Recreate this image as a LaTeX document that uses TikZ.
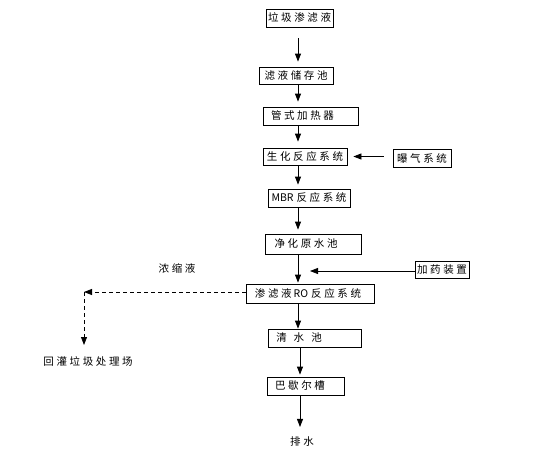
\documentclass[tikz,border=0pt]{standalone}
\usepackage{fontspec}
\newfontfamily\cjk[LetterSpace=25]{Noto Sans CJK SC}
\newfontfamily\lat{Noto Sans CJK SC}
\usetikzlibrary{arrows.meta}
\begin{document}
\begin{tikzpicture}[x=1pt,y=-1pt,
  txt/.style={inner sep=0pt, font=\cjk\fontsize{10.5}{12}\selectfont},
  box/.style={txt, draw, line width=0.8pt, minimum height=18pt},
  arr/.style={line width=0.8pt, -{Triangle[length=8pt,width=6pt]}},
  darr/.style={arr, dash pattern=on 4pt off 3pt}]
\useasboundingbox (0,0) rectangle (538,458);
\coordinate (col) at (298,0);
\coordinate (col2) at (300,0);
\node[box, minimum width=67pt] (a) at (299.5,18) {垃圾渗滤液};
\node[box, minimum width=74pt, minimum height=17pt] (b) at (296,75.5) {滤液储存池};
\node[box, minimum width=95pt] (c) at (310.5,116) {\hspace*{-16pt}管式加热器};
\node[box, minimum width=84pt, minimum height=17pt] (d) at (305,156.5) {生化反应系统};
\node[box, minimum width=58pt] (e) at (422,158) {曝气系统};
\node[box, minimum width=82pt] (f) at (309,198) {{\lat MBR}\hspace{3pt}反应系统};
\node[box, minimum width=96pt, minimum height=20pt] (g) at (313,244) {\hspace*{-14pt}净化原水池};
\node[box, minimum width=54pt, minimum height=17pt] (h) at (442,269.5) {加药装置};
\node[box, minimum width=128pt, minimum height=19pt] (i) at (310,293.5) {\hspace*{-4pt}渗滤液\hspace{2pt}{\lat RO}\hspace{3pt}反应系统};
\node[box, minimum width=93pt] (j) at (314.5,338) {\hspace*{-31pt}清\hspace{7pt}水\hspace{7pt}池};
\node[box, minimum width=77pt] (k) at (305.5,386) {\hspace*{-11pt}巴歇尔槽};
\node[txt] (l1) at (177,268) {浓缩液};
\node[txt] (l2) at (88,361) {回灌垃圾处理场};
\node[txt] (l3) at (302,442) {排水};
\coordinate (hp) at (310,271);
\coordinate (corner) at (84,292);
\coordinate (dend) at (84,345);
\draw[arr, shorten <=11pt, shorten >=5pt] (a.south -| col) -- (b.north -| col);
\draw[arr, shorten >=5pt] (b.south -| col) -- (c.north -| col);
\draw[arr, shorten >=6pt] (c.south -| col) -- (d.north -| col);
\draw[arr, shorten >=4pt] (d.south -| col) -- (f.north -| col);
\draw[arr, shorten >=4pt] (f.south -| col) -- (g.north -| col);
\draw[arr, shorten >=1pt] (g.south -| col) -- (i.north -| col);
\draw[arr] (i.south -| col) -- (j.north -| col);
\draw[arr, shorten >=2pt] (j.south -| col2) -- (k.north -| col2);
\draw[arr, shorten >=10pt] (k.south -| col2) -- (l3.north -| col2);
\draw[arr, shorten <=9pt, shorten >=6pt] (d.east -| e.west) -- (d.east);
\draw[arr] (h.west |- hp) -- (hp);
\draw[darr] (i.west |- corner) -- (corner);
\draw[darr] (corner) -- (dend);
\end{tikzpicture}
\end{document}
